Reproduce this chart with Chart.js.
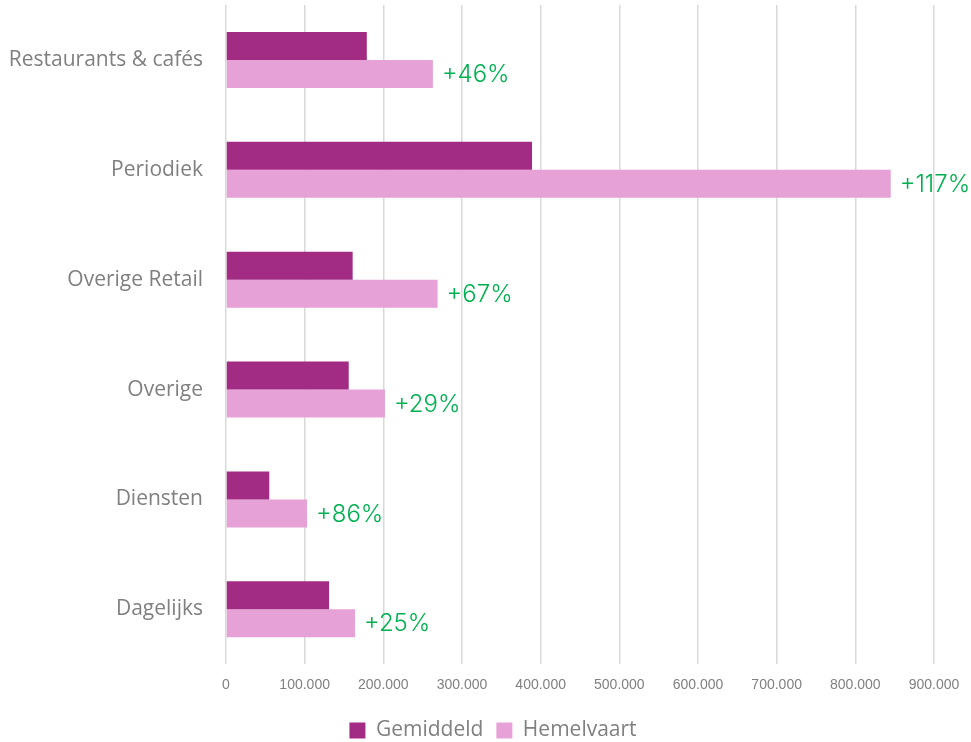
<!DOCTYPE html>
<html>
<head>
<meta charset="utf-8">
<script src="https://cdn.jsdelivr.net/npm/chart.js@4"></script>
<style>
html,body{margin:0;padding:0;background:#fff;}
#wrap{width:971px;height:742px;position:relative;}
</style>
</head>
<body>
<div id="wrap"><canvas id="c" width="971" height="742"></canvas></div>
<script>
const categories = ['Restaurants & cafés','Periodiek','Overige Retail','Overige','Diensten','Dagelijks'];
const gemiddeld = [179000, 389000, 161000, 156000, 55000, 131000];
const hemelvaart = [263000, 845000, 269000, 202000, 103000, 164000];
const changeLabels = ['+46%','+117%','+67%','+29%','+86%','+25%'];
const tickValues = [0,100000,200000,300000,400000,500000,600000,700000,800000,900000];

const pctPlugin = {
  id: 'pct',
  afterDatasetsDraw(chart) {
    const meta = chart.getDatasetMeta(1);
    const ctx = chart.ctx;
    ctx.save();
    ctx.font = '300 24px Inter, "Open Sans", sans-serif';
    ctx.fillStyle = '#00B050';
    ctx.textBaseline = 'middle';
    ctx.textAlign = 'left';
    meta.data.forEach((bar, i) => {
      ctx.fillText(changeLabels[i], bar.x + 9, bar.y + 1);
    });
    ctx.restore();
  }
};

const legendShift = {
  id: 'legendShift',
  afterLayout(chart) {
    if (chart.legend) { chart.legend.left += 22; chart.legend.right += 22; }
  }
};

const LEFT_PAD = 8;
const PLOT_LEFT = 226;

new Chart(document.getElementById('c'), {
  type: 'bar',
  data: {
    labels: categories,
    datasets: [
      {label: 'Gemiddeld', data: gemiddeld, backgroundColor: '#A22B83', categoryPercentage: 0.51, barPercentage: 1.0},
      {label: 'Hemelvaart', data: hemelvaart, backgroundColor: '#E6A1D6', categoryPercentage: 0.51, barPercentage: 1.0}
    ]
  },
  options: {
    indexAxis: 'y',
    responsive: false,
    animation: false,
    layout: {padding: {left: LEFT_PAD, right: 37, top: 5, bottom: -9}},
    scales: {
      x: {
        min: 0, max: 900000,
        afterBuildTicks(axis) { axis.ticks = tickValues.map(v => ({value: v})); },
        afterFit(s) { s.paddingLeft = 0; s.paddingRight = 0; },
        grid: {color: '#D9D9D9', lineWidth: 1.5, drawTicks: false},
        border: {display: false},
        ticks: {
          color: '#808080', padding: 13,
          font: {family: '"Liberation Sans", sans-serif', size: 14},
          callback: v => v === 0 ? '0' : v.toLocaleString('nl-NL')
        }
      },
      y: {
        afterFit(s) { s.paddingTop = 0; s.paddingBottom = 0; s.width = PLOT_LEFT - LEFT_PAD; },
        grid: {display: false, drawTicks: false},
        border: {display: false},
        ticks: {color: '#808080', padding: 23, font: {family: '"Open Sans", sans-serif', size: 21}}
      }
    },
    plugins: {
      legend: {
        position: 'bottom',
        labels: {color: '#808080', boxWidth: 16, boxHeight: 16, padding: 13, font: {family: '"Open Sans", sans-serif', size: 21}}
      },
      tooltip: {enabled: false}
    }
  },
  plugins: [pctPlugin, legendShift]
});
</script>
</body>
</html>
